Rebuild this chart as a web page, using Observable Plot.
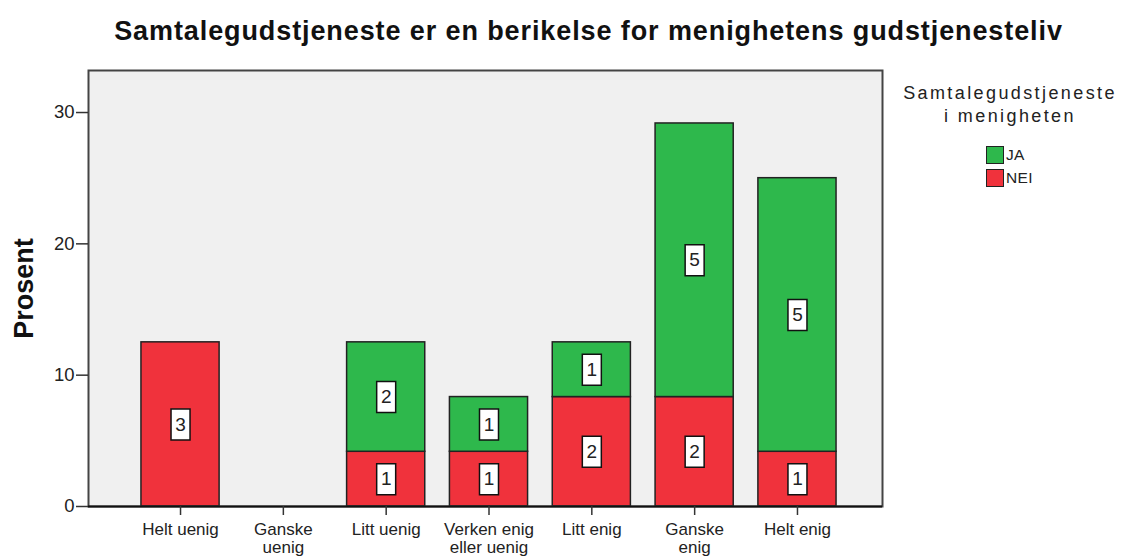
<!DOCTYPE html>
<html>
<head>
<meta charset="utf-8">
<script src="https://cdn.jsdelivr.net/npm/d3@7"></script>
<script src="https://cdn.jsdelivr.net/npm/@observablehq/plot@0.6"></script>
<style>
  html, body { margin: 0; padding: 0; background: #fff; }
  body { width: 1126px; height: 558px; position: relative; overflow: hidden; font-family: "Liberation Sans", Arial, sans-serif; }
  #chart { position: absolute; left: 0; top: 0; }
  #legend { position: absolute; left: 890px; top: 82px; width: 240px; color: #222; }
  #legend .ttl { text-align: center; font-size: 18px; letter-spacing: 2.4px; line-height: 23px; }
  #legend .items { position: absolute; left: 96px; top: 61px; }
  #legend .item { display: flex; align-items: center; height: 23px; font-size: 15.5px; letter-spacing: 0.3px; }
  #legend .sw { width: 16px; height: 16px; border: 1px solid #222; margin-right: 2px; box-sizing: content-box; }
</style>
</head>
<body>
<div id="chart"></div>
<div id="legend"></div>
<script>
// ---- data ----
const categories = ["Helt uenig", "Ganske uenig", "Litt uenig", "Verken enig eller uenig", "Litt enig", "Ganske enig", "Helt enig"];
const tickLabels = ["Helt uenig", "Ganske\nuenig", "Litt uenig", "Verken enig\neller uenig", "Litt enig", "Ganske\nenig", "Helt enig"];
const groups = ["JA", "NEI"];
const countsJA  = [0, 0, 2, 1, 1, 5, 5];
const countsNEI = [3, 0, 1, 1, 2, 2, 1];
const yTicks = [0, 10, 20, 30];
const colors = ["#2eb84c", "#f0323c"];
const title = "Samtalegudstjeneste er en berikelse for menighetens gudstjenesteliv";
const yLabel = "Prosent";
const legendTitle = ["Samtalegudstjeneste", "i menigheten"];

const total = d3.sum(countsJA) + d3.sum(countsNEI);
const rows = [];
categories.forEach((c, i) => {
  if (countsNEI[i] > 0) rows.push({cat: c, group: "NEI", count: countsNEI[i], pct: countsNEI[i] / total * 100});
  if (countsJA[i] > 0) rows.push({cat: c, group: "JA", count: countsJA[i], pct: countsJA[i] / total * 100});
});
const stackOrder = ["NEI", "JA"];
const labelMap = new Map(categories.map((c, i) => [c, tickLabels[i]]));
const boxSymbol = { draw(ctx) { ctx.moveTo(-9.5, -15.5); ctx.lineTo(9.5, -15.5); ctx.lineTo(9.5, 15.5); ctx.lineTo(-9.5, 15.5); ctx.closePath(); } };

const chart = Plot.plot({
  width: 1126,
  height: 558,
  marginLeft: 88,
  marginRight: 244,
  marginTop: 70,
  marginBottom: 52,
  style: { fontFamily: "Liberation Sans, Arial, sans-serif", color: "#222", background: "#fff" },
  x: { domain: categories, range: [88, 889], round: false, paddingInner: 0.24, paddingOuter: 0.515, align: 0.5, axis: null },
  y: { domain: [0, 33.2], axis: null },
  color: { domain: groups, range: colors },
  marks: [
    Plot.frame({ fill: "#f0f0f0", stroke: "none" }),
    Plot.barY(rows, Plot.stackY({ x: "cat", y: "pct", fill: "group", order: stackOrder, stroke: "#222", strokeWidth: 1.5, inset: 0 })),
    Plot.dot(rows, Plot.stackY({ x: "cat", y: "pct", z: "group", order: stackOrder, symbol: boxSymbol, fill: "#fff", stroke: "#111", strokeWidth: 1.5, r: 10 })),
    Plot.text(rows, Plot.stackY({ x: "cat", y: "pct", z: "group", order: stackOrder, text: "count", fontSize: 19, fill: "#222" })),
    Plot.frame({ stroke: "#444", strokeWidth: 2, fill: "none" }),
    Plot.ruleY([0], { stroke: "#111", strokeWidth: 2 }),
    Plot.axisY({ ticks: yTicks, tickSize: 12, tickPadding: 2, fontSize: 18.5, label: null, stroke: "#333", strokeWidth: 1.5 }),
    Plot.axisX({ tickSize: 9, tickPadding: 6, fontSize: 17, lineHeight: 1.1, label: null, tickFormat: d => labelMap.get(d), stroke: "#333", strokeWidth: 1.5 }),
    Plot.text([yLabel], { frameAnchor: "left", textAnchor: "middle", lineAnchor: "middle", rotate: -90, dx: -64, fontSize: 27, fontWeight: "bold", fill: "#111" }),
    Plot.text([title], { frameAnchor: "top", textAnchor: "middle", lineAnchor: "middle", dx: 103, dy: -39, fontSize: 27, fontWeight: "bold", fill: "#111", className: "charttitle" })
  ]
});
chart.querySelectorAll(".charttitle text").forEach(t => t.setAttribute("letter-spacing", "0.9"));
document.getElementById("chart").appendChild(chart);

// legend
const lg = document.getElementById("legend");
const t = document.createElement("div");
t.className = "ttl";
t.innerHTML = legendTitle.join("<br>");
lg.appendChild(t);
const items = document.createElement("div");
items.className = "items";
groups.forEach((g, i) => {
  const it = document.createElement("div");
  it.className = "item";
  const sw = document.createElement("span");
  sw.className = "sw";
  sw.style.background = colors[i];
  const lab = document.createElement("span");
  lab.textContent = g;
  it.appendChild(sw); it.appendChild(lab);
  items.appendChild(it);
});
lg.appendChild(items);
</script>
</body>
</html>
